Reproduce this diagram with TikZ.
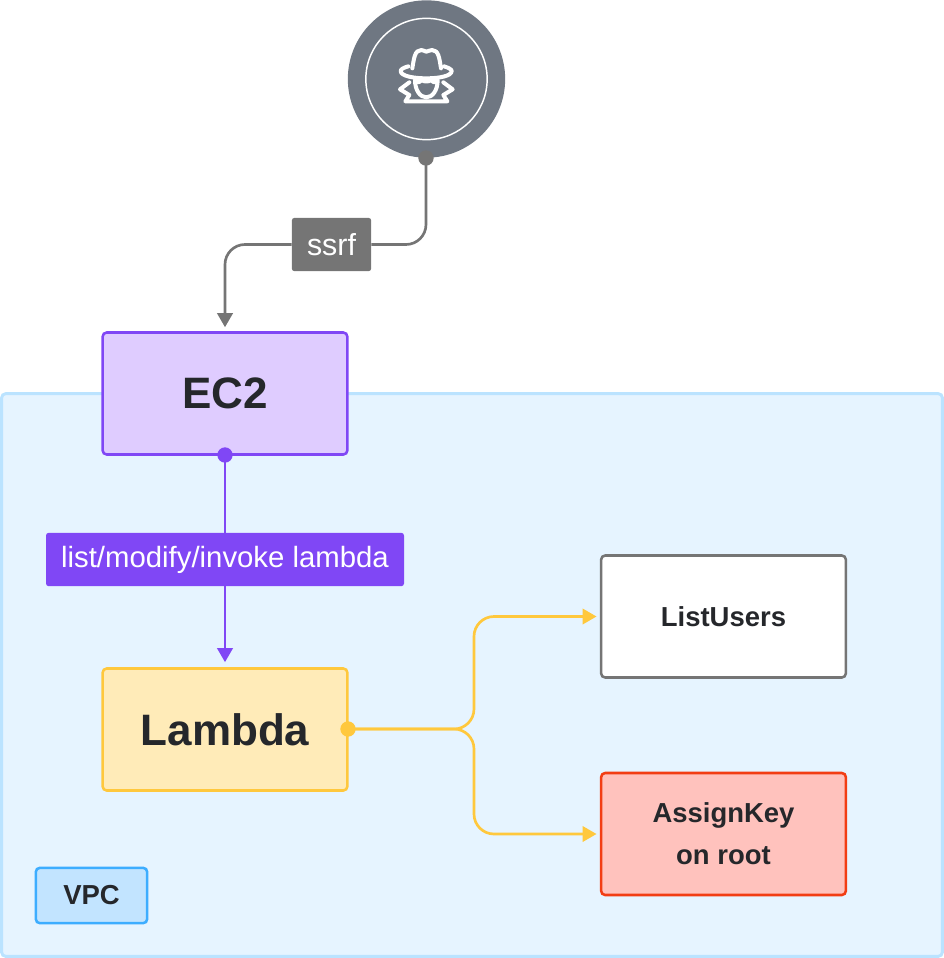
\documentclass[tikz,border=0pt]{standalone}
\usepackage{fontspec}
\setmainfont{Liberation Sans}
\usetikzlibrary{arrows.meta}
\definecolor{vpcfill}{HTML}{E6F4FF}
\definecolor{vpcline}{HTML}{BBE3FF}
\definecolor{purp}{HTML}{8047F5}
\definecolor{purpfill}{HTML}{DFCCFF}
\definecolor{amber}{HTML}{FFC83D}
\definecolor{amberfill}{HTML}{FFEBB8}
\definecolor{graybox}{HTML}{757575}
\definecolor{redline}{HTML}{F23D14}
\definecolor{redfill}{HTML}{FFC2BD}
\definecolor{bluefill}{HTML}{C2E4FF}
\definecolor{blueline}{HTML}{3DADFF}
\definecolor{slate}{HTML}{6F7782}
\definecolor{ink}{HTML}{25272B}
\tikzset{
  box/.style={draw,line width=1.9pt,rounded corners=3pt,minimum width=183.5pt,minimum height=91.5pt,inner sep=0pt,text=ink,align=center},
  lbl/.style={rounded corners=2pt,inner sep=0pt,text=white,minimum height=40pt},
  dotn/.style={circle,inner sep=0pt,minimum size=11.5pt},
  conn/.style={line width=2pt,rounded corners=15pt,-{Triangle[length=10.5pt,width=11.5pt]}},
  plain/.style={line width=2pt,rounded corners=15pt}
}
\begin{document}
\begin{tikzpicture}[x=0.75pt,y=-0.75pt]
\useasboundingbox (0,0) rectangle (944,958);
\node[draw=vpcline,fill=vpcfill,line width=2.2pt,rounded corners=3pt,minimum width=705.5pt,minimum height=422pt,inner sep=0pt] (vpc) at (472,675) {};
\node[box,draw=purp,fill=purpfill,font=\bfseries\fontsize{33}{36}\selectfont] (ec2) at (225,393.5) {EC2};
\node[box,draw=amber,fill=amberfill,font=\bfseries\fontsize{33}{36}\selectfont] (lambda) at (225,729.5) {Lambda};
\node[box,draw=graybox,fill=white,font=\bfseries\fontsize{20.6}{24}\selectfont] (listusers) at (723.5,616.5) {ListUsers};
\node[box,draw=redline,fill=redfill,font=\bfseries\fontsize{20.6}{31.5}\selectfont] (assign) at (723.5,834) {AssignKey\\on root};
\node[draw=blueline,fill=bluefill,line width=1.9pt,rounded corners=3pt,minimum width=83.5pt,minimum height=41.5pt,inner sep=0pt,text=ink,font=\bfseries\fontsize{20.6}{24}\selectfont] (vpclabel) at (91.5,895.5) {VPC};
% attacker
\node[circle,fill=slate,minimum size=118pt,inner sep=0pt] (attacker) at (426.5,79) {};
\node[circle,draw=white,line width=1.1pt,minimum size=91pt,inner sep=0pt] (ring) at (426.5,79) {};
\begin{scope}[shift={(340,0)},x=0.25pt,y=-0.25pt,draw=white,line width=3pt,line join=round,line cap=round]
  \draw (217,205) .. controls (222,175) and (224,150) .. (244,150) .. controls (252,150) and (254,155) .. (259,155) .. controls (264,155) and (268,150) .. (276,150) .. controls (296,150) and (298,175) .. (303,205);
  \draw (205,199) .. controls (190,203) and (182,208) .. (182,213) .. controls (182,228) and (220,235) .. (259,235) .. controls (298,235) and (335,228) .. (335,213) .. controls (335,208) and (325,203) .. (312,199);
  \draw (225,240) .. controls (225,270) and (240,292) .. (259,292) .. controls (278,292) and (293,270) .. (293,240);
  \draw (228,246) .. controls (236,250) and (240,244) .. (246,240) .. controls (250,246) and (268,246) .. (272,240) .. controls (278,244) and (282,250) .. (290,246);
  \draw (208,247) -- (180,268) -- (208,285) -- (196,304) -- (322,304) -- (310,285) -- (338,268) -- (310,247);
\end{scope}
\node[dotn,fill=graybox] (dotA) at (426,158) {};
\node[dotn,fill=purp] (dotE) at (225,455) {};
\node[dotn,fill=amber] (dotL) at (348,729) {};
\node[lbl,fill=graybox,minimum width=59.5pt,font=\fontsize{22.8}{26}\selectfont] (ssrf) at (331.5,244.5) {ssrf};
\node[lbl,fill=purp,minimum width=268.5pt,font=\fontsize{22}{26}\selectfont] (lm) at (225,559.5) {list/modify/invoke lambda};
\coordinate (branch) at (474,729);
\draw[plain,graybox] (dotA.center) |- (ssrf.east);
\draw[conn,graybox,shorten >=3pt] (ssrf.west) -| (ec2.north);
\draw[plain,purp,rounded corners=0pt] (dotE.center) -- (lm.north);
\draw[conn,purp,shorten >=3.8pt,rounded corners=0pt] (lm.south) -- (lambda.north);
\draw[conn,amber,shorten >=2.5pt] (dotL.center) -- (branch) |- (listusers.west);
\draw[conn,amber,shorten >=2.5pt] (dotL.center) -- (branch) |- (assign.west);
\end{tikzpicture}
\end{document}
